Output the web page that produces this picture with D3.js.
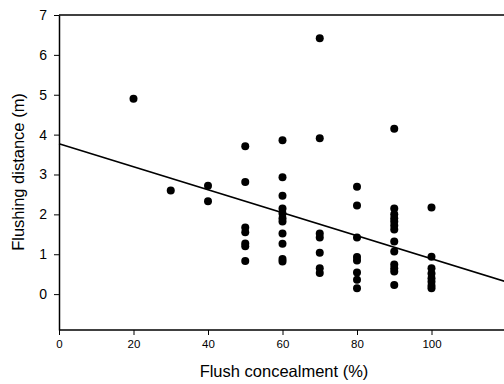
<!DOCTYPE html>
<html>
<head>
<meta charset="utf-8">
<script src="https://cdn.jsdelivr.net/npm/d3@7"></script>
<style>
  body { margin: 0; background: #fff; }
  svg { display: block; font-family: "Liberation Sans", Arial, sans-serif; }
</style>
</head>
<body>
<div id="main"></div>
<script>
// concealment (%) and flushing distance (m), one entry per bird
const concealment = [
    20, 30, 40, 40,
    50, 50, 50, 50, 50, 50, 50,
    60, 60, 60, 60, 60, 60, 60, 60, 60, 60, 60,
    70, 70, 70, 70, 70, 70, 70,
    80, 80, 80, 80, 80, 80, 80, 80,
    90, 90, 90, 90, 90, 90, 90, 90, 90, 90, 90, 90, 90,
    100, 100, 100, 100, 100, 100, 100, 100
];
const distance = [
    4.9, 2.6, 2.72, 2.33,
    3.71, 2.81, 1.67, 1.55, 1.27, 1.2, 0.83,
    3.86, 2.93, 2.47, 2.15, 2.02, 1.9, 1.82, 1.52, 1.26, 0.88, 0.82,
    6.42, 3.91, 1.52, 1.42, 1.04, 0.65, 0.53,
    2.69, 2.22, 1.42, 0.93, 0.84, 0.54, 0.36, 0.15,
    4.15, 2.15, 2.0, 1.9, 1.82, 1.72, 1.62, 1.32, 1.07, 0.74, 0.65, 0.57, 0.23,
    2.17, 0.94, 0.65, 0.52, 0.4, 0.31, 0.21, 0.15
];
// regression line end points (x, y)
const fitX = [0, 120];
const fitY = [3.77, 0.31];
const xTicks = [0, 20, 40, 60, 80, 100];
const yTicks = [0, 1, 2, 3, 4, 5, 6, 7];

const width = 504;
const height = 384;
const margin = {left: 59, top: 15, bottom: 54};

const svg = d3.select('#main').append('svg')
    .attr('width', width)
    .attr('height', height);

const x = d3.scaleLinear()
    .domain([0, 120])
    .range([margin.left, margin.left + 120 * 3.725]);
const y = d3.scaleLinear()
    .domain([-0.9, 7])
    .range([height - margin.bottom, margin.top]);

// top frame line
svg.append('line')
    .attr('x1', margin.left).attr('x2', width)
    .attr('y1', y(7)).attr('y2', y(7))
    .attr('stroke', '#000').attr('stroke-width', 1.5);

const xAxis = svg.append('g')
    .attr('transform', `translate(0, ${y(-0.9)})`)
    .call(d3.axisBottom(x).tickValues(xTicks).tickSize(5).tickSizeOuter(0));
xAxis.select('.domain').attr('stroke-width', 1.5).attr('d', `M${margin.left},0H${width}`);
xAxis.selectAll('text').attr('font-size', 11.5).attr('font-family', 'Liberation Sans').attr('dy', '0.9em').attr('fill', '#000');

const yAxis = svg.append('g')
    .attr('transform', `translate(${margin.left}, 0)`)
    .call(d3.axisLeft(y).tickValues(yTicks).tickSize(5).tickSizeOuter(0));
yAxis.select('.domain').attr('stroke-width', 1.5);
yAxis.selectAll('text').attr('font-size', 14).attr('font-family', 'Liberation Sans').attr('x', -12).attr('fill', '#000');

// regression line
const line = d3.line()
    .x((d) => x(d[0]))
    .y((d) => y(d[1]));
svg.append('path')
    .datum(fitX.map((v, i) => [v, fitY[i]]))
    .attr('fill', 'none')
    .attr('stroke', '#000')
    .attr('stroke-width', 1.6)
    .attr('d', line);

svg.append('g')
    .selectAll('circle')
    .data(concealment.map((c, i) => [c, distance[i]]))
    .enter()
    .append('circle')
    .attr('cx', (d) => x(d[0]))
    .attr('cy', (d) => y(d[1]))
    .attr('r', 4)
    .attr('fill', '#000');

svg.append('text')
    .attr('x', 284)
    .attr('y', 377)
    .attr('text-anchor', 'middle')
    .attr('font-size', 16.5)
    .attr('fill', '#000')
    .text('Flush concealment (%)');

svg.append('text')
    .attr('transform', 'translate(24, 172) rotate(-90)')
    .attr('text-anchor', 'middle')
    .attr('font-size', 16.5)
    .attr('fill', '#000')
    .text('Flushing distance (m)');
</script>
</body>
</html>
